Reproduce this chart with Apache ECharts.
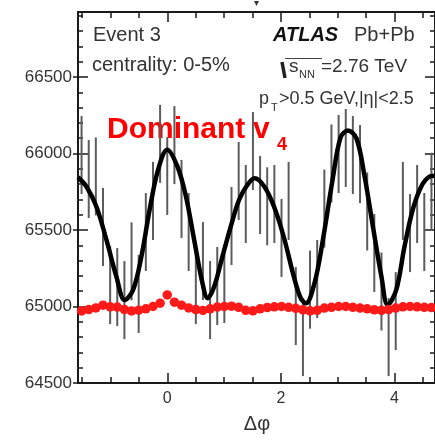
<!DOCTYPE html>
<html><head><meta charset="utf-8">
<script src="https://cdn.jsdelivr.net/npm/echarts@6/dist/echarts.min.js"></script>
<style>html,body{margin:0;padding:0;background:#fff}#c{width:435px;height:440px}</style>
</head><body><div id="c"></div>
<script>
// ---- data ----
const binCenters = [-1.508,-1.382,-1.257,-1.131,-1.005,-0.880,-0.754,-0.628,-0.503,-0.377,
  -0.251,-0.126,0.000,0.126,0.251,0.377,0.503,0.628,0.754,0.880,
  1.005,1.131,1.257,1.382,1.508,1.634,1.759,1.885,2.011,2.136,
  2.262,2.388,2.513,2.639,2.765,2.890,3.016,3.142,3.267,3.393,
  3.519,3.644,3.770,3.896,4.021,4.147,4.273,4.398,4.524,4.650];
const countValues = [65990,65833,65850,65520,65140,65127,65042,65295,65082,65487,
  65690,66063,65853,66055,65703,65487,65140,65297,65042,65134,
  65147,65526,65820,65670,66016,65729,65655,65670,65448,65690,
  65003,64800,65110,65180,65640,65935,65997,66036,65990,65931,
  65621,65350,65098,64800,64970,65690,65480,65670,65487,65750];
const countErrors = [255,255,255,255,255,255,255,255,255,255,
  255,255,255,255,255,255,255,255,255,255,
  255,255,255,255,255,255,255,255,255,255,
  255,255,255,255,255,255,255,255,255,255,
  255,255,255,255,255,255,255,255,255,255];
const mixedValues = [64971,64980,64991,65009,64998,64996,64980,64971,64976,64985,
  65000,65022,65076,65028,65009,64991,64980,64974,64985,64996,
  65000,65002,64995,64975,64972,64985,64993,64998,65000,64995,
  64988,64978,64972,64975,64990,64995,65000,65000,64995,64990,
  64985,64978,64975,64980,64990,64998,65000,64998,64995,64993];
const fitPhi = [-1.571,-1.421,-1.246,-1.070,-0.895,-0.749,-0.602,-0.456,-0.311,-0.163,
  0.000,0.180,0.330,0.474,0.620,0.710,0.825,0.970,1.117,1.263,
  1.409,1.538,1.710,1.880,2.050,2.228,2.350,2.440,2.591,2.737,
  2.910,3.050,3.180,3.330,3.474,3.620,3.770,3.880,4.030,4.175,
  4.320,4.468,4.614,4.712];
const fitValues = [65845,65783,65652,65435,65195,65042,65108,65325,65631,65892,
  66025,65914,65718,65435,65152,65054,65129,65325,65522,65696,
  65794,65838,65783,65652,65456,65195,65054,65021,65152,65430,
  65830,66105,66150,66099,65849,65522,65195,65010,65108,65391,
  65631,65783,65849,65855];
const yMajorTicks = [64500,65000,65500,66000,66500];
const yMinorTicks = [64600,64700,64800,64900,65100,65200,65300,65400,65600,65700,65800,65900,
  66100,66200,66300,66400,66600,66700,66800,66900];
const xMajorTicks = [0,2,4];
const xMinorTicks = [-1.5,-1,-0.5,0.5,1,1.5,2.5,3,3.5,4.5];

// ---- chart ----
const FONT = '"Liberation Sans", Arial, sans-serif';
const AX = '#1a1a1a';
const chart = echarts.init(document.getElementById('c'), null, {renderer:'canvas'});
const X_MIN = -Math.PI/2, X_MAX = 3*Math.PI/2, Y_MIN = 64500, Y_MAX = 66925;
const plain = v => String(v);

function xAx(pos, ticks, len, line, labels) {
  return {type:'value', position:pos, min:X_MIN, max:X_MAX, gridIndex:0,
    axisLine:{show:line, onZero:false, lineStyle:{color:AX, width:2}},
    axisTick:{show:true, inside:true, length:len, customValues:ticks, lineStyle:{color:AX, width:1.5}},
    axisLabel: labels ? {show:true, customValues:ticks, formatter:plain, color:'#333', fontSize:16, fontFamily:FONT, margin:8} : {show:false},
    splitLine:{show:false}};
}
function yAx(pos, ticks, len, line, labels, inside) {
  return {type:'value', position:pos, min:Y_MIN, max:Y_MAX, gridIndex:0,
    axisLine:{show:line, onZero:false, lineStyle:{color:AX, width:2}},
    axisTick:{show:true, inside:inside, length:len, customValues:ticks, lineStyle:{color:AX, width:1.5}},
    axisLabel: labels ? {show:true, customValues:ticks, formatter:plain, color:'#333', fontSize:17, fontFamily:FONT, margin:6} : {show:false},
    splitLine:{show:false}};
}

const option = {
  animation:false,
  backgroundColor:'#fff',
  grid:{left:78, right:-1, top:12, bottom:57, containLabel:false},
  xAxis:[
    xAx('bottom', xMajorTicks, 10, true, true),
    xAx('bottom', xMinorTicks, 6, false, false),
    xAx('top', xMajorTicks, 10, true, false),
    xAx('top', xMinorTicks, 6, false, false)
  ],
  yAxis:[
    yAx('left', yMajorTicks, 10, true, true, true),
    yAx('left', yMinorTicks, 5, false, false, true),
    yAx('left', yMajorTicks, 5, false, false, false),
    yAx('right', yMajorTicks, 10, true, false, true),
    yAx('right', yMinorTicks, 5, false, false, true)
  ],
  series:[
    {type:'custom', xAxisIndex:0, yAxisIndex:0, clip:true, z:2,
     data: binCenters.map((x,i)=>[x, countValues[i], countErrors[i]]),
     encode:{x:0, y:1},
     renderItem:function(params, api){
       const x = api.value(0), v = api.value(1), e = api.value(2);
       const p1 = api.coord([x, v - e]), p2 = api.coord([x, v + e]);
       return {type:'line', shape:{x1:p1[0], y1:p1[1], x2:p2[0], y2:p2[1]},
         style:{stroke:'#5c5c5c', lineWidth:2}};
     }},
    {type:'line', xAxisIndex:0, yAxisIndex:0, z:3, smooth:0.35, showSymbol:false, symbol:'none',
     data: fitPhi.map((x,i)=>[x, fitValues[i]]),
     lineStyle:{color:'#000', width:4.5}},
    {type:'scatter', xAxisIndex:0, yAxisIndex:0, z:4, symbolSize:9.5,
     data: binCenters.map((x,i)=>[x, mixedValues[i]]),
     itemStyle:{color:'#ff1a1a', opacity:1}}
  ],
  graphic:[
    {type:'text', x:93, y:35.5, style:{text:'Event 3', font:'20px '+FONT, fill:'#333', verticalAlign:'middle'}},
    {type:'text', x:92, y:65.5, style:{text:'centrality: 0-5%', font:'20px '+FONT, fill:'#333', verticalAlign:'middle'}},
    {type:'text', x:273, y:35.5, style:{text:'ATLAS', font:'italic bold 20px '+FONT, fill:'#111', verticalAlign:'middle'}},
    {type:'text', x:354, y:35.5, style:{text:'Pb+Pb', font:'20px '+FONT, fill:'#333', verticalAlign:'middle'}},
    {type:'polyline', shape:{points:[[282,62],[285,78]]}, style:{stroke:'#222', lineWidth:3.5, fill:null}},
    {type:'polyline', shape:{points:[[285,58.5],[322,58.5]]}, style:{stroke:'#444', lineWidth:1.2, fill:null}},
    {type:'text', x:289, y:67, style:{text:'s', font:'19px '+FONT, fill:'#333', verticalAlign:'middle'}},
    {type:'text', x:299, y:75, style:{text:'NN', font:'11px '+FONT, fill:'#333', verticalAlign:'middle'}},
    {type:'text', x:321, y:66.5, style:{text:'=2.76 TeV', font:'19px '+FONT, fill:'#333', verticalAlign:'middle'}},
    {type:'text', x:259, y:99, style:{text:'p', font:'18px '+FONT, fill:'#333', verticalAlign:'middle'}},
    {type:'text', x:271, y:108, style:{text:'T', font:'11px '+FONT, fill:'#333', verticalAlign:'middle'}},
    {type:'text', x:279, y:99.5, style:{text:'>0.5 GeV,|η|<2.5', font:'18px '+FONT, fill:'#333', verticalAlign:'middle'}},
    {type:'text', x:107, y:130, style:{text:'Dominant', font:'bold 30px '+FONT, fill:'#ff0000', verticalAlign:'middle'}},
    {type:'text', x:253, y:130, style:{text:'v', font:'bold 30px '+FONT, fill:'#ff0000', verticalAlign:'middle'}},
    {type:'text', x:277, y:145, style:{text:'4', font:'bold 18px '+FONT, fill:'#ff0000', verticalAlign:'middle'}},
    {type:'text', x:257, y:424, style:{text:'Δφ', font:'20px '+FONT, fill:'#333', align:'center', verticalAlign:'middle'}},
    {type:'text', x:256, y:3, style:{text:'▾', font:'10px '+FONT, fill:'#333', align:'center', verticalAlign:'middle'}}
  ]
};
chart.setOption(option);
</script></body></html>
